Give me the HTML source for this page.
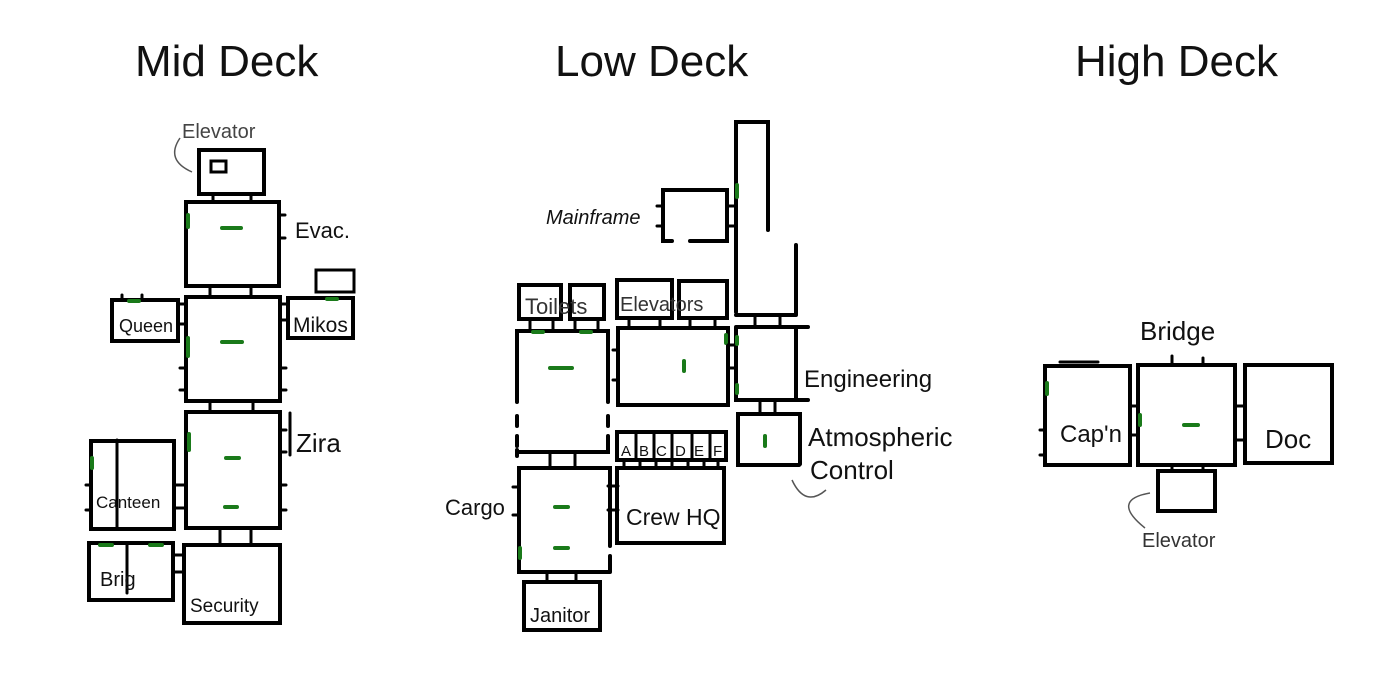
<!DOCTYPE html>
<html><head><meta charset="utf-8"><style>
html,body{margin:0;padding:0;background:#fff;width:1400px;height:700px;overflow:hidden}
svg{display:block}
text{font-family:"Liberation Sans",sans-serif;fill:#111}
.b{fill:none;stroke:#000;stroke-width:4;stroke-linecap:round}
.t{fill:none;stroke:#000;stroke-width:3;stroke-linecap:round}
.g{fill:none;stroke:#1a7a1a;stroke-width:4;stroke-linecap:round}
.a{fill:none;stroke:#555;stroke-width:1.5}
</style></head><body>
<svg width="1400" height="700" viewBox="0 0 1400 700">
<text x="135" y="76" font-size="44">Mid Deck</text>
<text x="555" y="76" font-size="44">Low Deck</text>
<text x="1075" y="76" font-size="44">High Deck</text>

<!-- MID DECK -->
<text x="182" y="138" font-size="20" style="fill:#444">Elevator</text>
<path class="a" d="M180,138 Q165,160 192,172"/>
<rect class="b" x="199" y="150" width="65" height="44"/>
<rect class="t" x="211" y="161" width="15" height="11"/>
<path class="t" d="M213,194v8M251,194v8"/>
<rect class="b" x="186" y="202" width="93" height="84"/>
<path class="g" d="M222,228h19M188,215v12"/>
<path class="t" d="M279,215h6M279,238h6"/>
<text x="295" y="238" font-size="22">Evac.</text>
<path class="t" d="M210,286v10M251,286v10"/>
<rect class="b" x="186" y="297" width="94" height="104"/>
<path class="g" d="M222,342h20M188,338v18"/>
<path class="t" d="M180,304h6M180,324h6M180,368h6M180,390h6M280,368h6M280,390h6"/>
<rect class="b" x="112" y="300" width="66" height="41"/>
<path class="t" d="M122,300v-5M142,300v-5"/>
<path class="g" d="M129,301h10"/>
<text x="119" y="332" font-size="18">Queen</text>
<rect class="b" x="288" y="298" width="65" height="40"/>
<rect class="t" x="316" y="270" width="38" height="22"/>
<path class="g" d="M327,299h10"/>
<path class="t" d="M280,304h8M280,320h8"/>
<text x="293" y="332" font-size="21">Mikos</text>
<path class="t" d="M210,401v11M253,401v11"/>
<rect class="b" x="186" y="412" width="94" height="116"/>
<path class="g" d="M226,458h13M225,507h12M189,434v16"/>
<path class="t" d="M290,413v42M280,430h6M280,452h6M280,485h6M280,510h6"/>
<text x="296" y="452" font-size="26">Zira</text>
<rect class="b" x="91" y="441" width="83" height="88"/>
<path class="t" d="M117,440v88"/>
<path class="g" d="M92,458v10"/>
<path class="t" d="M174,485h12M174,508h12M86,485h5M86,510h5"/>
<text x="96" y="508" font-size="17">Canteen</text>
<path class="t" d="M220,528v17M251,528v17"/>
<rect class="b" x="89" y="543" width="84" height="57"/>
<path class="t" d="M127,543v50"/>
<path class="g" d="M100,545h12M150,545h12"/>
<path class="t" d="M173,555h11M173,572h11"/>
<text x="100" y="586" font-size="20">Brig</text>
<rect class="b" x="184" y="545" width="96" height="78"/>
<text x="190" y="612" font-size="19">Security</text>

<!-- LOW DECK -->
<path class="b" d="M736,312V122h32v108M796,245v70M736,315h60"/>
<path class="g" d="M737,185v12"/>
<path class="b" d="M690,241h37v-51h-64v51h9"/>
<path class="t" d="M657,206h6M657,226h6M727,206h9M727,226h9"/>
<text x="546" y="224" font-size="20" font-style="italic">Mainframe</text>
<rect class="b" x="519" y="285" width="42" height="34"/>
<rect class="b" x="570" y="285" width="34" height="34"/>
<text x="525" y="314" font-size="22" style="fill:#333">Toilets</text>
<rect class="b" x="617" y="280" width="55" height="38"/>
<rect class="b" x="679" y="281" width="48" height="37"/>
<text x="620" y="311" font-size="20" style="fill:#333">Elevators</text>
<path class="t" d="M530,319v12M553,319v12M575,319v12M598,319v12M629,318v9M660,318v9M690,318v9M715,318v9M755,315v12M780,315v12"/>
<path class="b" d="M517,402V331h91v71M517,416v10M517,436v10M608,416v10M608,436v10M517,456v-6M517,452h91v-6"/>
<path class="g" d="M550,368h22M533,332h10M581,332h10"/>
<rect class="b" x="618" y="328" width="110" height="77"/>
<path class="g" d="M684,361v10M726,335v8"/>
<path class="t" d="M613,350h5M613,380h5M728,345h8M728,368h8"/>
<path class="b" d="M736,327h72M736,327v73h72M796,327v73"/>
<path class="g" d="M737,337v7M737,385v8"/>
<text x="804" y="387" font-size="24">Engineering</text>
<path class="t" d="M760,400v13M775,400v13"/>
<path class="b" d="M799,465h-61v-51h62v50"/>
<path class="g" d="M765,436v10"/>
<text x="808" y="446" font-size="26">Atmospheric</text>
<text x="810" y="479" font-size="26">Control</text>
<path class="a" d="M826,490 Q805,508 792,480"/>
<rect class="b" x="617" y="432" width="109" height="28"/>
<path class="t" d="M636,432v28M654,432v28M672,432v28M692,432v28M710,432v28"/>
<text x="621" y="456" font-size="15">A</text><text x="639" y="456" font-size="15">B</text><text x="656" y="456" font-size="15">C</text><text x="675" y="456" font-size="15">D</text><text x="694" y="456" font-size="15">E</text><text x="713" y="456" font-size="15">F</text>
<path class="t" d="M624,460v8M640,460v8M656,460v8M672,460v8M688,460v8M704,460v8M718,460v8"/>
<rect class="b" x="617" y="468" width="107" height="75"/>
<text x="626" y="525" font-size="23">Crew HQ</text>
<path class="t" d="M550,452v16M575,452v16M608,486h10M608,510h10"/>
<path class="b" d="M519,560V468h91v78M610,556v16M519,552v20h91"/>
<path class="g" d="M555,507h13M555,548h13M520,548v10"/>
<path class="t" d="M513,487h6M513,515h6"/>
<text x="445" y="515" font-size="22">Cargo</text>
<path class="t" d="M547,573v9M576,573v9"/>
<rect class="b" x="524" y="582" width="76" height="48"/>
<text x="530" y="622" font-size="20">Janitor</text>

<!-- HIGH DECK -->
<text x="1140" y="340" font-size="26">Bridge</text>
<path class="t" d="M1060,362h38M1172,364v-8M1203,364v-6"/>
<rect class="b" x="1045" y="366" width="85" height="99"/>
<path class="g" d="M1047,383v11"/>
<path class="t" d="M1040,430h5M1040,455h5M1130,406h7M1130,435h7"/>
<text x="1060" y="442" font-size="24">Cap'n</text>
<rect class="b" x="1138" y="365" width="97" height="100"/>
<path class="g" d="M1184,425h14M1140,415v10"/>
<path class="t" d="M1235,406h9M1235,440h9"/>
<rect class="b" x="1245" y="365" width="87" height="98"/>
<text x="1265" y="448" font-size="26">Doc</text>
<path class="t" d="M1172,465v6M1203,465v6"/>
<rect class="b" x="1158" y="471" width="57" height="40"/>
<path class="a" d="M1145,528 Q1110,500 1150,493"/>
<text x="1142" y="547" font-size="20" style="fill:#333">Elevator</text>
</svg>
</body></html>
